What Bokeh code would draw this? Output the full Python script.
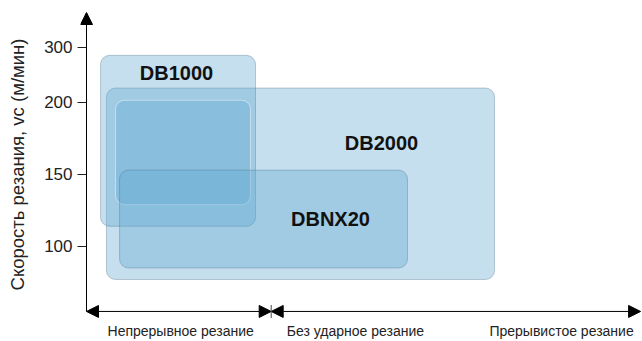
from bokeh.plotting import figure
from bokeh.models import Range1d, FixedTicker, Arrow, NormalHead, ColumnDataSource
from bokeh.core.properties import value
from bokeh.embed import file_html
from bokeh.resources import INLINE

# ---- data (schematic chart: cutting speed ranges of grades) ----
grades = ["DB2000", "DB1000", "DB1000 core", "DBNX20"]
# x: cutting condition scale (0-1 continuous, 1-3 light interrupted -> interrupted)
x_left = [0.108, 0.076, 0.157, 0.179]
x_right = [2.209, 0.915, 0.888, 1.738]
# y: cutting speed, m/min
v_low = [77, 114, 129, 85]
v_high = [226, 285, 204, 153]

label_names = ["DB1000", "DB2000", "DBNX20"]
label_x = [0.487, 1.597, 1.321]
label_v = [253, 172, 119]

y_ticks = [100, 150, 200, 300]
x_zone_pos = [0.51, 1.456, 2.572]
x_zone_labels = ["Непрерывное резание", "Без ударное резание", "Прерывистое резание"]
zone_bounds = [0, 1, 3]


# broken (compressed) axis above 200 m/min, as on the original scheme
def pos(v):
    return v if v <= 200 else 200 + (v - 200) * 0.385


FONT = value("Liberation Sans")
PPX = 184.7                      # px per x unit
XR0, XR1 = -6 / PPX, 556 / PPX
YR0, YR1 = 49.9, 263.9           # axis (display) units
Y_AXIS, Y_TIP = 54.8, 262.5

p = figure(width=642, height=341, output_backend="svg", toolbar_location=None,
           x_range=Range1d(XR0, XR1), y_range=Range1d(YR0, YR1),
           min_border_left=80, min_border_right=0, min_border_top=10, min_border_bottom=22)
p.outline_line_color = None
p.grid.visible = False
p.background_fill_color = "white"

src = ColumnDataSource(dict(
    left=x_left, right=x_right,
    bottom=[pos(v) for v in v_low], top=[pos(v) for v in v_high],
    lc=["#4d6f86", "#4d6f86", "#ffffff", "#4d6f86"],
    la=[0.35, 0.35, 0.45, 0.35],
))
p.quad(left="left", right="right", bottom="bottom", top="top", source=src,
       fill_color="#62a8d0", fill_alpha=0.37, line_color="lc", line_alpha="la",
       line_width=1, border_radius=9)

p.text(x=label_x, y=[pos(v) for v in label_v], text=label_names,
       text_font=FONT, text_font_style="bold", text_font_size="20px",
       text_align="center", text_baseline="middle", text_color="#111111")

# y axis (frame edge 6px left of the arrow line; ticks reach the line)
ya = p.yaxis[0]
ya.ticker = FixedTicker(ticks=[pos(t) for t in y_ticks])
ya.major_label_overrides = {pos(t): str(t) for t in y_ticks}
ya.axis_line_color = None
ya.major_tick_out = 3
ya.major_tick_in = 6
ya.minor_tick_line_color = None
ya.major_tick_line_color = "#222222"
ya.major_label_text_font = "Liberation Sans"
ya.major_label_text_font_size = "17px"
ya.major_label_text_color = "#222222"
ya.major_label_standoff = 5
ya.axis_label = "Скорость резания, vc (м/мин)"
ya.axis_label_text_font = "Liberation Sans"
ya.axis_label_text_font_style = "normal"
ya.axis_label_text_font_size = "18.5px"
ya.axis_label_text_color = "#222222"
ya.axis_label_standoff = 13

# x axis (zone labels)
xa = p.xaxis[0]
xa.ticker = FixedTicker(ticks=x_zone_pos)
xa.major_label_overrides = {t: s for t, s in zip(x_zone_pos, x_zone_labels)}
xa.axis_line_color = None
xa.major_tick_out = 0
xa.major_tick_in = 0
xa.major_tick_line_color = None
xa.minor_tick_line_color = None
xa.minor_tick_out = 0
xa.major_label_text_font = "Liberation Sans"
xa.major_label_text_font_size = "14px"
xa.major_label_text_color = "#222222"
xa.major_label_standoff = 4

# axis arrows
head = dict(fill_color="black", line_color="black")
p.add_layout(Arrow(x_start=0, y_start=Y_AXIS, x_end=0, y_end=Y_TIP,
                   start=None, end=NormalHead(size=12, **head),
                   line_color="black", line_width=1))
for a, b in zip(zone_bounds[:-1], zone_bounds[1:]):
    p.add_layout(Arrow(x_start=a, y_start=Y_AXIS, x_end=b, y_end=Y_AXIS,
                       start=NormalHead(size=12, **head), end=NormalHead(size=12, **head),
                       line_color="black", line_width=1))
p.add_layout(Arrow(x_start=1, y_start=Y_AXIS - 4.5, x_end=1, y_end=Y_AXIS + 4.5,
                   start=None, end=None, line_color="#444444", line_width=1))

open("out.html", "w").write(file_html(p, INLINE))
